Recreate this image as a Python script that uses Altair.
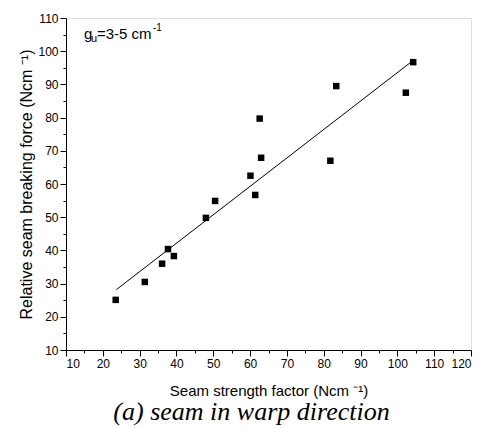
import altair as alt
import pandas as pd

# Scatter data: seam strength factor (x) vs relative seam breaking force (y)
seam_strength = [23.5, 31.4, 36.1, 37.7, 39.3, 48.0, 50.5, 60.1, 61.4, 62.6, 63.0, 81.8, 83.4, 102.3, 104.3]
breaking_force = [25.1, 30.5, 36.0, 40.4, 38.3, 49.8, 54.9, 62.5, 56.7, 79.7, 67.9, 67.0, 89.5, 87.5, 96.7]

# Fitted line endpoints
fit_x = [23.7, 103.8]
fit_y = [28.2, 96.8]

# Tick positions
x_major = list(range(10, 121, 10))
x_minor = list(range(15, 120, 10))
y_major = list(range(10, 111, 10))
y_minor = list(range(15, 110, 10))

pts = pd.DataFrame({"x": seam_strength, "y": breaking_force})
fit = pd.DataFrame({"x": fit_x, "y": fit_y})

FONT = "Liberation Sans"

x_axis = alt.Axis(
    values=x_major, orient="bottom", labelOverlap=False, tickSize=6,
    grid=False, domainColor="black", tickColor="black",
    labelFont=FONT, labelFontSize=12, labelColor="black", labelPadding=2,
    title="Seam strength factor (Ncm \u207b\u00b9)",
    titleFont=FONT, titleFontSize=15, titleFontWeight="normal", titleColor="black",
    titlePadding=14,
)
y_axis = alt.Axis(
    values=y_major, orient="left", labelOverlap=False, tickSize=6,
    grid=False, domainColor="black", tickColor="black",
    labelFont=FONT, labelFontSize=12, labelColor="black", labelPadding=2,
    title="Relative seam breaking force (Ncm \u207b\u00b9)",
    titleFont=FONT, titleFontSize=16, titleFontWeight="normal", titleColor="black",
    titlePadding=3,
)
x_minor_axis = alt.Axis(values=x_minor, orient="bottom", tickSize=3, labels=False,
                        domain=False, grid=False, tickColor="black", title=None)
y_minor_axis = alt.Axis(values=y_minor, orient="left", tickSize=3, labels=False,
                        domain=False, grid=False, tickColor="black", title=None)

xs = alt.Scale(domain=[10, 120], nice=False, zero=False)
ys = alt.Scale(domain=[10, 110], nice=False, zero=False)

points = alt.Chart(pts).mark_square(color="black", size=42, opacity=1).encode(
    x=alt.X("x:Q", scale=xs, axis=x_axis),
    y=alt.Y("y:Q", scale=ys, axis=y_axis),
)
line = alt.Chart(fit).mark_line(color="black", strokeWidth=1).encode(
    x=alt.X("x:Q", scale=xs, axis=x_minor_axis),
    y=alt.Y("y:Q", scale=ys, axis=y_minor_axis),
)

ann_font = "Liberation Sans"
g_txt = alt.Chart(pd.DataFrame({"t": ["g"]})).mark_text(
    font=ann_font, fontSize=15, align="left", baseline="alphabetic", color="black"
).encode(text="t:N", x=alt.value(18), y=alt.value(21))
u_txt = alt.Chart(pd.DataFrame({"t": ["u"]})).mark_text(
    font=ann_font, fontSize=11, align="left", baseline="alphabetic", color="black"
).encode(text="t:N", x=alt.value(25), y=alt.value(24))
rest_txt = alt.Chart(pd.DataFrame({"t": ["=3-5 cm"]})).mark_text(
    font=ann_font, fontSize=15, align="left", baseline="alphabetic", color="black"
).encode(text="t:N", x=alt.value(31), y=alt.value(21))
sup_txt = alt.Chart(pd.DataFrame({"t": ["-1"]})).mark_text(
    font=ann_font, fontSize=10, align="left", baseline="alphabetic", color="black"
).encode(text="t:N", x=alt.value(87), y=alt.value(13))

chart = alt.layer(points, line, g_txt, u_txt, rest_txt, sup_txt).resolve_axis(
    x="independent", y="independent"
).properties(
    width=405,
    height=332,
    autosize=alt.AutoSizeParams(type="none"),
    padding={"left": 58, "top": 10, "right": 5, "bottom": 80},
    title=alt.TitleParams(
        "(a) seam in warp direction", orient="bottom", anchor="middle",
        font="Liberation Serif", fontSize=26, fontStyle="italic", fontWeight="normal",
        color="black", offset=1, dx=-17,
    ),
).configure_view(stroke=None).configure(background="white")

chart.save("out.html", embed_options={"renderer": "svg", "actions": False})
